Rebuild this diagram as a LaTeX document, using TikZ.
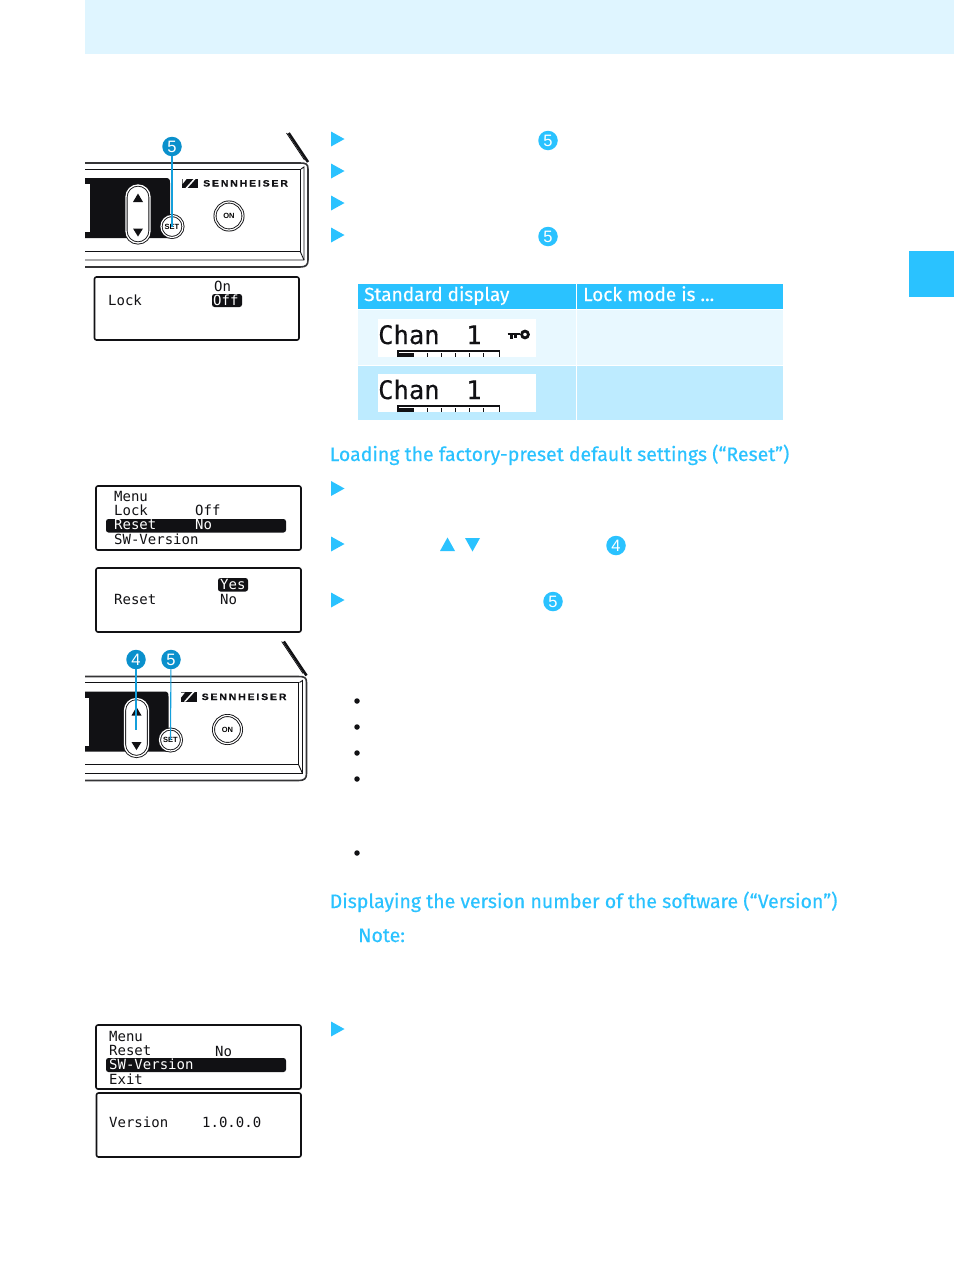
\documentclass[tikz,border=0pt]{standalone}
\usepackage{fontspec}
\setmainfont{Fira Sans}
\newfontfamily\headfont{Fira Sans}[FakeBold=0.35]
\newfontfamily\lcdfont{DejaVu Sans Mono}
\newfontfamily\chanfont{DejaVu Sans Mono}[FakeBold=0.3]
\newfontfamily\brandfont{Liberation Sans}[LetterSpace=20,FakeStretch=1.14,FakeBold=0.6]
\newfontfamily\keyfont{Liberation Sans}
\definecolor{sky}{HTML}{2AC2FF}
\definecolor{band}{HTML}{DFF5FF}
\definecolor{rowa}{HTML}{E8F8FF}
\definecolor{rowb}{HTML}{BDEBFF}
\definecolor{callout}{HTML}{0A90CC}
\definecolor{ink}{HTML}{111114}
\tikzset{
  x=1pt,y=-1pt,
  lcdbox/.style={draw=ink,line width=1.6pt,rounded corners=2pt,fill=white},
  lcd/.style={font=\lcdfont\fontsize{14}{14}\selectfont,text=ink,anchor=base west,inner sep=0pt},
  lcdinv/.style={lcd,text=white},
  lcdbar/.style={fill=ink,rounded corners=2.5pt},
  heading/.style={font=\headfont\fontsize{19.5}{20}\selectfont,text=sky,anchor=base west,inner sep=0pt},
  thead/.style={font=\headfont\fontsize{19}{20}\selectfont,text=white,anchor=base west,inner sep=0pt},
  chan/.style={font=\chanfont\fontsize{25.5}{25}\selectfont,text=ink,anchor=base west,inner sep=0pt},
  arrowmark/.style={fill=sky},
  numdot/.style={circle,fill=sky,text=white,inner sep=0pt,minimum size=19.5pt,font=\keyfont\fontsize{16.5}{16}\selectfont},
  calldot/.style={circle,fill=callout,text=white,inner sep=0pt,minimum size=19.5pt,font=\keyfont\fontsize{16.5}{16}\selectfont},
  callline/.style={draw=callout!70!sky,line width=1.1pt},
  bulletdot/.style={circle,fill=ink,inner sep=0pt,minimum size=5.5pt},
  panelline/.style={draw=ink,line width=.9pt},
  panelthick/.style={draw=ink!85,line width=1.6pt},
}
\newcommand{\stepmark}[2]{\fill[arrowmark] (#1,#2-7.5) -- (#1+13.5,#2) -- (#1,#2+7.5) -- cycle;}
% #1,#2 offset, #3 name suffix, #4 top of the slanted edge
\newcommand{\devicepanel}[4]{%
\begin{scope}[shift={(#1,#2)}]
  \clip (85-#1,120) rectangle (320,280);
  \draw[panelthick] (80,163) -- (300,163) .. controls (306,163) and (308,164) .. (308,169)
      -- (308,260) .. controls (308,265) and (306,267) .. (300,267) -- (80,267);
  \draw[panelline] (80,169) -- (300,169) -- (300,251) -- (80,251);
  \draw[panelline] (80,260) -- (304,260) -- (304,167) -- (301,169);
  \draw[panelline] (300,251) -- (304,260);
  \fill[ink] (80,178) -- (165,178) .. controls (169,178) and (170,179) .. (170,183)
      -- (170,238) -- (80,238) -- cycle;
  \fill[white] (80,184) rectangle (90,232);
  \draw[ink,line width=.8pt] ({304.5-(160-#4)*2/3},#4) -- (304.5,160);
  \draw[ink,line width=2.6pt] ({308-(162-#4)*2/3},#4) -- (308,162);
  \node[draw=ink,fill=white,line width=.9pt,double=white,double distance=1.3pt,rounded corners=12pt,
        minimum width=24pt,minimum height=58pt,inner sep=0pt] (rocker#3) at (138,214) {};
  \fill[ink] (133,202) -- (143,202) -- (138,193.5) -- cycle;
  \fill[ink] (133,228.5) -- (143,228.5) -- (138,236.5) -- cycle;
  \node[circle,draw=ink,fill=white,line width=.9pt,double=white,double distance=1.2pt,minimum size=22pt,inner sep=0pt,
        font=\keyfont\bfseries\fontsize{7.5}{8}\selectfont] (set#3) at (172,226.5) {SET};
  \node[circle,draw=ink,fill=white,line width=.9pt,double=white,double distance=1.2pt,minimum size=28pt,inner sep=0pt,
        font=\keyfont\bfseries\fontsize{7.5}{8}\selectfont] (on#3) at (229,216) {ON};
  \fill[ink] (182,178.5) rectangle (198,188);
  \fill[white] (185.5,188) -- (194,178.5) -- (196,178.5) -- (187.5,188) -- cycle;
  \fill[white] (182.5,179) -- (186.5,179) -- (182.5,184) -- cycle;
  \node[font=\brandfont\bfseries\fontsize{9.2}{10}\selectfont,text=ink,anchor=base west,inner sep=0pt] (brand#3) at (203,186.5) {SENNHEISER};
\end{scope}}
\begin{document}
\begin{tikzpicture}
\useasboundingbox (0,0) rectangle (954,1285);
\fill[white] (0,0) rectangle (954,1285);
\fill[band] (85,0) rectangle (954,53.5);
\fill[sky] (909,251) rectangle (954,297);

% step marks and reference numbers
\stepmark{331}{139}\stepmark{331}{171}\stepmark{331}{203}\stepmark{331}{235}
\stepmark{331}{488.5}\stepmark{331}{544}\stepmark{331}{600}\stepmark{331}{1029}
\node[numdot] (n1) at (548,140.5) {5};
\node[numdot] (n2) at (548,236.5) {5};
\node[numdot] (n3) at (616,545.5) {4};
\node[numdot] (n4) at (553,601.5) {5};
\fill[sky] (440,551) -- (455,551) -- (447.5,537.5) -- cycle;
\fill[sky] (465,538) -- (480,538) -- (472.5,551.5) -- cycle;

% device panel 1
\devicepanel{0}{0}{a}{133}
\node[calldot] (c5a) at (172,146.5) {5};
\draw[callline] (c5a) -- (seta.center);

% lock display
\draw[lcdbox] (94.5,277) rectangle (299,340);
\fill[lcdbar] (212,294) rectangle (242,307);
\node[lcd] (t1) at (108,305) {Lock};
\node[lcd] (t2) at (214,291) {On};
\node[lcdinv] (t3) at (213,305) {Off};

% table
\fill[sky] (358,284) rectangle (783,309);
\fill[rowa] (358,310) rectangle (783,364.5);
\fill[rowb] (358,365.5) rectangle (783,420);
\draw[white,line width=1.2pt] (576.5,284) -- (576.5,420);
\node[thead] (h1) at (364,301) {Standard display};
\node[thead] (h2) at (583,301) {Lock mode is ...};
\foreach \dy/\nm/\nn in {0/c1/d1,55/c2/d2}{
  \fill[white] (378,319+\dy) rectangle (536,357+\dy);
  \node[chan] (\nm) at (378,344+\dy) {Chan};
  \node[chan] (\nn) at (466,344+\dy) {1};
  \draw[ink,line width=1.3pt] (398,357+\dy) -- (398,351+\dy) -- (499.5,351+\dy) -- (499.5,357+\dy);
  \fill[ink] (398,353+\dy) rectangle (414,357+\dy);
  \foreach \tx in {427,441,455,469,483}{\draw[ink,line width=1pt] (\tx,353+\dy) -- (\tx,357+\dy);}
}
% key symbol
\draw[ink,line width=2.8pt] (525,334.5) circle (3.4pt);
\draw[ink,line width=2.6pt] (507.5,334) -- (520,334);
\fill[ink] (509.5,334) rectangle (513,339);
\fill[ink] (514,334) rectangle (516.5,337.5);

% headings
\node[heading] (head1) at (329.5,461) {Loading the factory-preset default settings (“Reset”)};
\node[heading] (head2) at (329.5,908) {Displaying the version number of the software (“Version”)};
\node[heading] (head3) at (358,942) {Note:};

% menu reset
\draw[lcdbox] (96,486) rectangle (301,550);
\fill[lcdbar] (106,519) rectangle (286,532.5);
\node[lcd] (m1) at (114,501) {Menu};
\node[lcd] (m2) at (114,515.5) {Lock};
\node[lcd] (m3) at (195,515.5) {Off};
\node[lcdinv] (m4) at (114,529.5) {Reset};
\node[lcdinv] (m5) at (195,529.5) {No};
\node[lcd] (m6) at (114,544) {SW-Version};

\draw[lcdbox] (96,568) rectangle (301,632);
\fill[lcdbar] (218,578) rectangle (248,591.5);
\node[lcdinv] (r1) at (220,589) {Yes};
\node[lcd] (r2) at (114,604) {Reset};
\node[lcd] (r3) at (220,604) {No};

% device panel 2
\devicepanel{-1.5}{513.5}{b}{128}
\node[calldot] (c4b) at (136,659.5) {4};
\node[calldot] (c5b) at (171,659.5) {5};
\coordinate (rockmid) at (136,730);
\draw[callline] (c4b) -- (rockmid);
\draw[callline] (c5b) -- (setb.center);

% bullets
\node[bulletdot] (b1) at (357,701) {};
\node[bulletdot] (b2) at (357,727) {};
\node[bulletdot] (b3) at (357,753) {};
\node[bulletdot] (b4) at (357,779) {};
\node[bulletdot] (b5) at (357,853) {};

% version displays
\draw[lcdbox] (96,1025) rectangle (301,1089);
\fill[lcdbar] (106,1058) rectangle (286,1072);
\node[lcd] (v1) at (109,1041) {Menu};
\node[lcd] (v2) at (109,1055) {Reset};
\node[lcd] (v3) at (215,1056) {No};
\node[lcdinv] (v4) at (109,1069) {SW-Version};
\node[lcd] (v5) at (109,1084) {Exit};
\draw[lcdbox] (96.5,1093) rectangle (301,1157);
\node[lcd] (v6) at (109,1127) {Version};
\node[lcd] (v7) at (202,1127) {1.0.0.0};
\end{tikzpicture}
\end{document}
